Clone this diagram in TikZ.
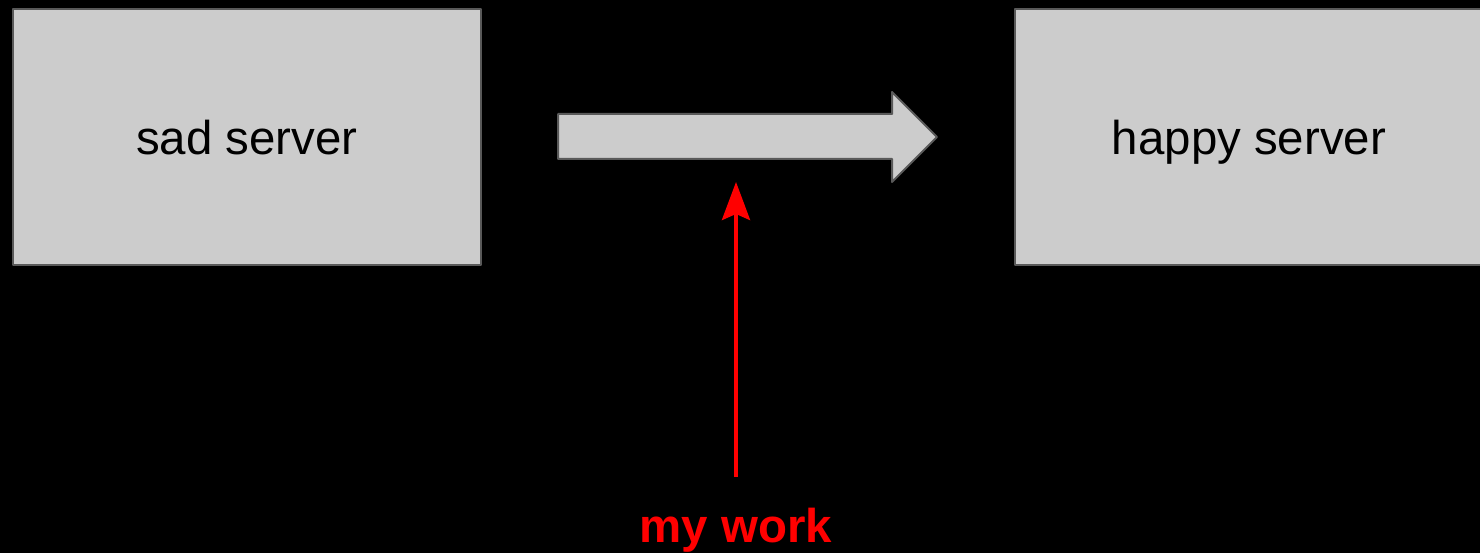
\documentclass[tikz,border=0pt]{standalone}
\usepackage{fontspec}
\setmainfont{Liberation Sans}
\usetikzlibrary{arrows.meta}
\definecolor{boxgray}{HTML}{CCCCCC}
\definecolor{edgegray}{HTML}{595959}
\tikzset{
  server/.style={draw=edgegray, fill=boxgray, line width=0.04cm,
    minimum width=9.36cm, minimum height=5.12cm, inner sep=0pt,
    text height=24.3pt, text depth=4.9pt},
  workarrow/.style={red, line width=0.08cm, -{Stealth[length=0.76cm, width=0.56cm, inset=0.12cm]}}
}
\begin{document}
\begin{tikzpicture}[x=0.02cm, y=-0.02cm, font=\fontsize{27}{32}\selectfont, line join=round]
	\clip (0,0) rectangle (1480,553);
	\fill[black] (0,0) rectangle (1480,553);
	\node[server] (sad) at (247,137) {sad server};
	\node[server] (happy) at (1249,137) {happy server};
	% big arrow between the servers
	\path
	(558,114) coordinate (A)
	(892,114) coordinate (B)
	(892,92) coordinate (C)
	(937,137) coordinate (T)
	(892,182) coordinate (D)
	(892,159) coordinate (E)
	(558,159) coordinate (F)
	(736,182) coordinate (P)
	(736,477) coordinate (Q);
	\draw[draw=edgegray, fill=boxgray, line width=0.04cm] (A)--(B)--(C)--(T)--(D)--(E)--(F)--cycle;
	\node[red, font=\fontsize{27}{32}\selectfont\bfseries, anchor=base] (work) at (736,542) {my work};
	\draw[workarrow] (Q)--(P);
\end{tikzpicture}
\end{document}
